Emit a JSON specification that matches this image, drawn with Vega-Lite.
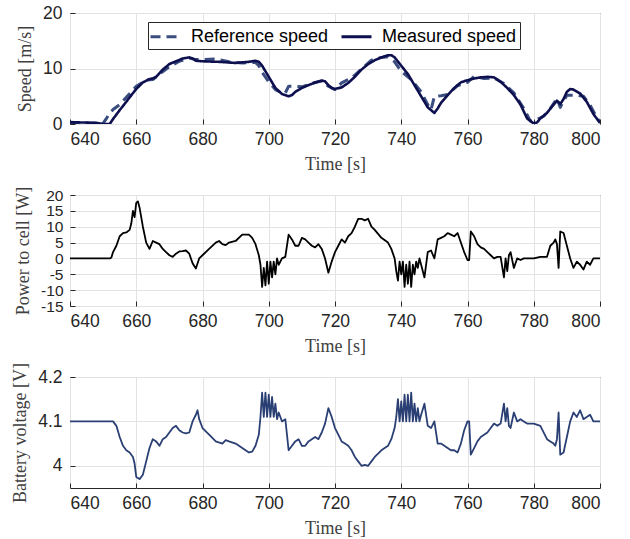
{
  "$schema": "https://vega.github.io/schema/vega-lite/v6.json",
  "padding": {"left": 11, "top": 3, "right": 5, "bottom": 0},
  "background": "white",
  "bounds": "flush",
  "spacing": 71,
  "config": {
    "view": {"stroke": "#262626", "strokeWidth": 1},
    "axis": {
      "labelFont": "Liberation Sans", "labelFontSize": 17.5, "labelColor": "#262626",
      "titleFont": "Liberation Serif", "titleFontSize": 18, "titleFontWeight": "normal", "titleColor": "#404040",
      "gridColor": "#e3e3e3", "gridWidth": 1, "domain": false,
      "tickColor": "#262626", "tickSize": -5, "tickWidth": 1,
      "labelOverlap": false, "labelBound": false
    },
    "axisX": {"labelPadding": 11, "titlePadding": 8},
    "axisY": {"labelPadding": 13, "titlePadding": 8},
    "line": {"strokeJoin": "round", "strokeCap": "butt"}
  },
  "datasets": {
    "ref": [
      {"t":640,"v":0.3,"s":"Reference speed"},{"t":645,"v":0.2,"s":"Reference speed"},{"t":650,"v":0.1,"s":"Reference speed"},
      {"t":651,"v":1.0,"s":"Reference speed"},{"t":652,"v":2.0,"s":"Reference speed"},{"t":653,"v":2.6,"s":"Reference speed"},
      {"t":655,"v":3.5,"s":"Reference speed"},{"t":657,"v":4.8,"s":"Reference speed"},{"t":660,"v":6.8,"s":"Reference speed"},
      {"t":663,"v":7.9,"s":"Reference speed"},{"t":665,"v":8.0,"s":"Reference speed"},{"t":667,"v":9.0,"s":"Reference speed"},
      {"t":670,"v":10.3,"s":"Reference speed"},{"t":673,"v":11.3,"s":"Reference speed"},{"t":676,"v":11.9,"s":"Reference speed"},
      {"t":678,"v":11.6,"s":"Reference speed"},{"t":680,"v":11.6,"s":"Reference speed"},{"t":684,"v":11.7,"s":"Reference speed"},
      {"t":688,"v":11.2,"s":"Reference speed"},{"t":692,"v":11.0,"s":"Reference speed"},{"t":696,"v":11.1,"s":"Reference speed"},
      {"t":697,"v":10.5,"s":"Reference speed"},{"t":698,"v":9.3,"s":"Reference speed"},{"t":700,"v":7.6,"s":"Reference speed"},
      {"t":702,"v":6.2,"s":"Reference speed"},{"t":704,"v":5.6,"s":"Reference speed"},{"t":705,"v":5.6,"s":"Reference speed"},
      {"t":706,"v":6.8,"s":"Reference speed"},{"t":708,"v":6.8,"s":"Reference speed"},{"t":710,"v":6.7,"s":"Reference speed"},
      {"t":713,"v":7.3,"s":"Reference speed"},{"t":716,"v":7.8,"s":"Reference speed"},{"t":718,"v":6.8,"s":"Reference speed"},
      {"t":720,"v":6.2,"s":"Reference speed"},{"t":722,"v":7.4,"s":"Reference speed"},{"t":725,"v":8.3,"s":"Reference speed"},
      {"t":728,"v":9.9,"s":"Reference speed"},{"t":731,"v":11.5,"s":"Reference speed"},{"t":734,"v":12.0,"s":"Reference speed"},
      {"t":736,"v":12.1,"s":"Reference speed"},{"t":738,"v":11.2,"s":"Reference speed"},{"t":740,"v":9.5,"s":"Reference speed"},
      {"t":743,"v":8.0,"s":"Reference speed"},{"t":746,"v":5.8,"s":"Reference speed"},{"t":748,"v":3.5,"s":"Reference speed"},
      {"t":749,"v":2.6,"s":"Reference speed"},{"t":750,"v":5.0,"s":"Reference speed"},{"t":752,"v":5.1,"s":"Reference speed"},
      {"t":754,"v":5.3,"s":"Reference speed"},{"t":757,"v":6.9,"s":"Reference speed"},{"t":760,"v":7.5,"s":"Reference speed"},
      {"t":762,"v":8.6,"s":"Reference speed"},{"t":765,"v":8.2,"s":"Reference speed"},{"t":768,"v":8.3,"s":"Reference speed"},
      {"t":771,"v":7.3,"s":"Reference speed"},{"t":774,"v":5.6,"s":"Reference speed"},{"t":777,"v":2.8,"s":"Reference speed"},
      {"t":779,"v":0.5,"s":"Reference speed"},{"t":781,"v":0.8,"s":"Reference speed"},{"t":783,"v":1.4,"s":"Reference speed"},
      {"t":785,"v":2.8,"s":"Reference speed"},{"t":787,"v":4.6,"s":"Reference speed"},{"t":788,"v":3.0,"s":"Reference speed"},
      {"t":790,"v":5.2,"s":"Reference speed"},{"t":793,"v":5.2,"s":"Reference speed"},{"t":795,"v":5.0,"s":"Reference speed"},
      {"t":797,"v":3.4,"s":"Reference speed"},{"t":799,"v":1.2,"s":"Reference speed"},{"t":800,"v":0.3,"s":"Reference speed"}
    ],
    "meas": [
      {"t":640,"v":0.3,"s":"Measured speed"},{"t":642,"v":0.3,"s":"Measured speed"},{"t":645,"v":0.25,"s":"Measured speed"},
      {"t":648,"v":0.2,"s":"Measured speed"},{"t":649,"v":0.1,"s":"Measured speed"},{"t":650,"v":0,"s":"Measured speed"},
      {"t":652,"v":0,"s":"Measured speed"},{"t":653,"v":0.9,"s":"Measured speed"},{"t":655,"v":2.5,"s":"Measured speed"},
      {"t":657,"v":4.0,"s":"Measured speed"},{"t":658,"v":4.8,"s":"Measured speed"},{"t":660,"v":6.3,"s":"Measured speed"},
      {"t":662,"v":7.5,"s":"Measured speed"},{"t":664,"v":8.1,"s":"Measured speed"},{"t":665,"v":8.2,"s":"Measured speed"},
      {"t":666,"v":8.5,"s":"Measured speed"},{"t":668,"v":9.8,"s":"Measured speed"},{"t":670,"v":10.8,"s":"Measured speed"},
      {"t":672,"v":11.3,"s":"Measured speed"},{"t":674,"v":11.8,"s":"Measured speed"},{"t":676,"v":12.0,"s":"Measured speed"},
      {"t":677,"v":11.8,"s":"Measured speed"},{"t":678,"v":11.4,"s":"Measured speed"},{"t":680,"v":11.3,"s":"Measured speed"},
      {"t":685,"v":11.2,"s":"Measured speed"},{"t":690,"v":11.0,"s":"Measured speed"},{"t":694,"v":11.2,"s":"Measured speed"},
      {"t":696,"v":11.4,"s":"Measured speed"},{"t":697,"v":11.2,"s":"Measured speed"},{"t":698,"v":10.5,"s":"Measured speed"},
      {"t":700,"v":8.5,"s":"Measured speed"},{"t":702,"v":6.5,"s":"Measured speed"},{"t":704,"v":5.4,"s":"Measured speed"},
      {"t":706,"v":5.0,"s":"Measured speed"},{"t":707,"v":5.2,"s":"Measured speed"},{"t":708,"v":5.8,"s":"Measured speed"},
      {"t":710,"v":6.5,"s":"Measured speed"},{"t":712,"v":7.0,"s":"Measured speed"},{"t":714,"v":7.5,"s":"Measured speed"},
      {"t":716,"v":7.8,"s":"Measured speed"},{"t":717,"v":7.7,"s":"Measured speed"},{"t":718,"v":7.0,"s":"Measured speed"},
      {"t":719,"v":6.5,"s":"Measured speed"},{"t":720,"v":6.3,"s":"Measured speed"},{"t":722,"v":6.6,"s":"Measured speed"},
      {"t":724,"v":7.4,"s":"Measured speed"},{"t":726,"v":8.5,"s":"Measured speed"},{"t":728,"v":9.8,"s":"Measured speed"},
      {"t":730,"v":10.8,"s":"Measured speed"},{"t":732,"v":11.5,"s":"Measured speed"},{"t":734,"v":12.0,"s":"Measured speed"},
      {"t":736,"v":12.4,"s":"Measured speed"},{"t":737,"v":12.4,"s":"Measured speed"},{"t":738,"v":12.0,"s":"Measured speed"},
      {"t":740,"v":10.5,"s":"Measured speed"},{"t":742,"v":9.0,"s":"Measured speed"},{"t":744,"v":7.0,"s":"Measured speed"},
      {"t":746,"v":5.0,"s":"Measured speed"},{"t":748,"v":3.0,"s":"Measured speed"},{"t":749,"v":2.5,"s":"Measured speed"},
      {"t":750,"v":2.0,"s":"Measured speed"},{"t":751,"v":2.8,"s":"Measured speed"},{"t":752,"v":3.8,"s":"Measured speed"},
      {"t":754,"v":5.2,"s":"Measured speed"},{"t":756,"v":6.5,"s":"Measured speed"},{"t":758,"v":7.5,"s":"Measured speed"},
      {"t":760,"v":7.9,"s":"Measured speed"},{"t":762,"v":8.2,"s":"Measured speed"},{"t":764,"v":8.4,"s":"Measured speed"},
      {"t":766,"v":8.5,"s":"Measured speed"},{"t":768,"v":8.4,"s":"Measured speed"},{"t":770,"v":7.6,"s":"Measured speed"},
      {"t":772,"v":6.5,"s":"Measured speed"},{"t":774,"v":5.2,"s":"Measured speed"},{"t":776,"v":3.5,"s":"Measured speed"},
      {"t":778,"v":1.0,"s":"Measured speed"},{"t":780,"v":0.1,"s":"Measured speed"},{"t":781,"v":0.3,"s":"Measured speed"},
      {"t":782,"v":1.0,"s":"Measured speed"},{"t":784,"v":2.0,"s":"Measured speed"},{"t":786,"v":3.5,"s":"Measured speed"},
      {"t":787,"v":4.2,"s":"Measured speed"},{"t":788,"v":3.6,"s":"Measured speed"},{"t":789,"v":4.5,"s":"Measured speed"},
      {"t":790,"v":5.8,"s":"Measured speed"},{"t":791,"v":6.3,"s":"Measured speed"},{"t":792,"v":6.2,"s":"Measured speed"},
      {"t":794,"v":5.5,"s":"Measured speed"},{"t":796,"v":4.0,"s":"Measured speed"},{"t":798,"v":1.8,"s":"Measured speed"},
      {"t":800,"v":0.2,"s":"Measured speed"}
    ],
    "power": [
      {"t":640,"p":0},{"t":652,"p":0},{"t":652.5,"p":0.3},{"t":653,"p":2},{"t":654,"p":4},{"t":655,"p":7},{"t":656,"p":8},
      {"t":657,"p":8.2},{"t":658,"p":9},{"t":658.5,"p":11},{"t":659,"p":15},{"t":659.5,"p":13},{"t":660,"p":17.5},{"t":660.5,"p":18},
      {"t":661,"p":16},{"t":662,"p":10},{"t":663,"p":5},{"t":664,"p":3},{"t":665,"p":5.5},{"t":666,"p":5},{"t":667,"p":4.5},
      {"t":668,"p":3},{"t":669,"p":2},{"t":670,"p":1},{"t":671,"p":0.5},{"t":672,"p":1.5},{"t":673,"p":2.2},{"t":674,"p":2.3},
      {"t":675,"p":2.5},{"t":676,"p":1.5},{"t":677,"p":-1.5},{"t":678,"p":-3.2},{"t":679,"p":0},{"t":680,"p":1},{"t":682,"p":3},
      {"t":684,"p":5},{"t":685,"p":5.5},{"t":686,"p":4.5},{"t":687,"p":4.2},{"t":688,"p":5},{"t":690,"p":5.5},{"t":692,"p":7.5},
      {"t":694,"p":7.5},{"t":695,"p":6.5},{"t":696,"p":4.5},{"t":697,"p":1},{"t":697.5,"p":-2},{"t":698,"p":-9},{"t":698.5,"p":-3},
      {"t":699,"p":-8.5},{"t":699.5,"p":-1},{"t":700,"p":-8},{"t":700.5,"p":-1},{"t":701,"p":-6},{"t":701.5,"p":-1},{"t":702,"p":-5},
      {"t":702.5,"p":0},{"t":703,"p":-2},{"t":704,"p":0},{"t":705,"p":0.5},{"t":706,"p":7.5},{"t":707,"p":6},{"t":708,"p":4},
      {"t":709,"p":4},{"t":710,"p":6.5},{"t":711,"p":6},{"t":712,"p":5},{"t":713,"p":4},{"t":714,"p":3.5},{"t":715,"p":4.5},
      {"t":716,"p":3},{"t":717,"p":0},{"t":718,"p":-4.5},{"t":719,"p":-1},{"t":720,"p":2},{"t":721,"p":4},{"t":722,"p":6},
      {"t":723,"p":5},{"t":724,"p":7},{"t":725,"p":8},{"t":726,"p":10},{"t":727,"p":12.5},{"t":728,"p":12.5},{"t":729,"p":12},
      {"t":730,"p":12.5},{"t":731,"p":10},{"t":732,"p":9},{"t":734,"p":6.5},{"t":736,"p":5},{"t":737,"p":3},{"t":738,"p":0},
      {"t":738.5,"p":-4},{"t":739,"p":-7},{"t":739.5,"p":-1},{"t":740,"p":-5},{"t":740.5,"p":-1},{"t":741,"p":-9},{"t":741.5,"p":-2},
      {"t":742,"p":-8},{"t":742.5,"p":-1},{"t":743,"p":-9},{"t":743.5,"p":-2},{"t":744,"p":-5},{"t":744.5,"p":-1},{"t":745,"p":-3},
      {"t":745.5,"p":0},{"t":746,"p":-2},{"t":747,"p":-6},{"t":748,"p":2},{"t":749,"p":2.5},{"t":750,"p":0},{"t":751,"p":6},
      {"t":752,"p":6.5},{"t":753,"p":7},{"t":754,"p":8},{"t":755,"p":7.5},{"t":756,"p":7},{"t":757,"p":8},{"t":758,"p":5},
      {"t":759,"p":2},{"t":760,"p":-0.5},{"t":760.5,"p":-0.5},{"t":761,"p":8.5},{"t":762,"p":7},{"t":763,"p":4.5},{"t":764,"p":3.5},
      {"t":765,"p":3},{"t":766,"p":2},{"t":767,"p":1},{"t":768,"p":0},{"t":769,"p":0.5},{"t":770,"p":0.5},{"t":771,"p":-6},
      {"t":771.5,"p":0},{"t":772,"p":-4},{"t":772.5,"p":1},{"t":773,"p":2},{"t":774,"p":-3},{"t":775,"p":0},{"t":776,"p":-0.5},
      {"t":777,"p":0},{"t":780,"p":0},{"t":782,"p":0.5},{"t":784,"p":0.5},{"t":785,"p":4},{"t":786,"p":5},{"t":786.5,"p":6},
      {"t":787,"p":4.5},{"t":787.5,"p":-3},{"t":788,"p":8.5},{"t":789,"p":8},{"t":790,"p":4},{"t":791,"p":0},{"t":792,"p":-3},
      {"t":793,"p":-1},{"t":794,"p":-2},{"t":795,"p":-3.5},{"t":796,"p":-1},{"t":797,"p":-2},{"t":798,"p":0},{"t":800,"p":0}
    ],
    "volt": [
      {"t":640,"u":4.1},{"t":653,"u":4.1},{"t":654,"u":4.09},{"t":655,"u":4.065},{"t":656,"u":4.045},{"t":657,"u":4.035},
      {"t":658,"u":4.03},{"t":659,"u":4.02},{"t":659.5,"u":4.005},{"t":660,"u":3.975},{"t":661,"u":3.97},{"t":662,"u":3.98},
      {"t":663,"u":4.01},{"t":664,"u":4.04},{"t":665,"u":4.06},{"t":666,"u":4.055},{"t":667,"u":4.045},{"t":668,"u":4.06},
      {"t":669,"u":4.065},{"t":670,"u":4.075},{"t":671,"u":4.085},{"t":672,"u":4.09},{"t":673,"u":4.08},{"t":674,"u":4.075},
      {"t":675,"u":4.073},{"t":676,"u":4.075},{"t":677,"u":4.1},{"t":678,"u":4.115},{"t":678.5,"u":4.125},{"t":679,"u":4.105},
      {"t":680,"u":4.085},{"t":682,"u":4.07},{"t":684,"u":4.055},{"t":686,"u":4.05},{"t":687,"u":4.058},{"t":688,"u":4.055},
      {"t":690,"u":4.05},{"t":692,"u":4.04},{"t":694,"u":4.03},{"t":695,"u":4.032},{"t":696,"u":4.045},{"t":697,"u":4.07},
      {"t":697.5,"u":4.11},{"t":698,"u":4.165},{"t":698.5,"u":4.11},{"t":699,"u":4.165},{"t":699.5,"u":4.11},{"t":700,"u":4.16},
      {"t":700.5,"u":4.11},{"t":701,"u":4.155},{"t":701.5,"u":4.11},{"t":702,"u":4.14},{"t":702.5,"u":4.105},{"t":703,"u":4.12},
      {"t":704,"u":4.1},{"t":705,"u":4.105},{"t":706,"u":4.035},{"t":707,"u":4.045},{"t":708,"u":4.055},{"t":709,"u":4.06},
      {"t":710,"u":4.045},{"t":711,"u":4.045},{"t":712,"u":4.055},{"t":713,"u":4.06},{"t":714,"u":4.065},{"t":715,"u":4.06},
      {"t":716,"u":4.075},{"t":717,"u":4.095},{"t":718,"u":4.13},{"t":719,"u":4.11},{"t":720,"u":4.085},{"t":721,"u":4.07},
      {"t":722,"u":4.055},{"t":723,"u":4.05},{"t":724,"u":4.045},{"t":725,"u":4.035},{"t":726,"u":4.02},{"t":727,"u":4.01},
      {"t":728,"u":4.0},{"t":729,"u":4.002},{"t":730,"u":4.0},{"t":731,"u":4.01},{"t":732,"u":4.02},{"t":734,"u":4.035},
      {"t":736,"u":4.045},{"t":737,"u":4.06},{"t":738,"u":4.085},{"t":738.5,"u":4.11},{"t":739,"u":4.15},{"t":739.5,"u":4.1},
      {"t":740,"u":4.145},{"t":740.5,"u":4.1},{"t":741,"u":4.16},{"t":741.5,"u":4.1},{"t":742,"u":4.16},{"t":742.5,"u":4.1},
      {"t":743,"u":4.165},{"t":743.5,"u":4.1},{"t":744,"u":4.14},{"t":744.5,"u":4.1},{"t":745,"u":4.13},{"t":745.5,"u":4.1},
      {"t":746,"u":4.115},{"t":747,"u":4.14},{"t":748,"u":4.09},{"t":749,"u":4.085},{"t":750,"u":4.1},{"t":751,"u":4.05},
      {"t":752,"u":4.05},{"t":753,"u":4.045},{"t":754,"u":4.04},{"t":755,"u":4.035},{"t":756,"u":4.035},{"t":757,"u":4.03},
      {"t":758,"u":4.05},{"t":759,"u":4.08},{"t":760,"u":4.1},{"t":760.5,"u":4.1},{"t":761,"u":4.025},{"t":762,"u":4.04},
      {"t":763,"u":4.055},{"t":764,"u":4.065},{"t":765,"u":4.07},{"t":766,"u":4.075},{"t":767,"u":4.085},{"t":768,"u":4.095},
      {"t":769,"u":4.09},{"t":770,"u":4.095},{"t":771,"u":4.14},{"t":771.5,"u":4.1},{"t":772,"u":4.13},{"t":772.5,"u":4.09},
      {"t":773,"u":4.085},{"t":774,"u":4.12},{"t":775,"u":4.1},{"t":776,"u":4.105},{"t":777,"u":4.1},{"t":778,"u":4.095},
      {"t":780,"u":4.095},{"t":782,"u":4.09},{"t":784,"u":4.06},{"t":785,"u":4.055},{"t":786,"u":4.05},{"t":786.5,"u":4.045},
      {"t":787,"u":4.06},{"t":787.5,"u":4.12},{"t":788,"u":4.025},{"t":789,"u":4.03},{"t":790,"u":4.065},{"t":791,"u":4.1},
      {"t":792,"u":4.12},{"t":793,"u":4.11},{"t":794,"u":4.125},{"t":795,"u":4.105},{"t":796,"u":4.11},{"t":797,"u":4.115},
      {"t":798,"u":4.1},{"t":800,"u":4.1}
    ]
  },
  "vconcat": [
    {
      "width": 530, "height": 111,
      "encoding": {
        "x": {"field": "t", "type": "quantitative", "scale": {"domain": [640, 800], "nice": false},
              "axis": {"values": [640,660,680,700,720,740,760,780,800], "title": "Time [s]", "labelExpr": "'' + datum.value"}},
        "y": {"field": "v", "type": "quantitative", "scale": {"domain": [0, 20], "nice": false},
              "axis": {"values": [0,10,20], "title": "Speed [m/s]", "labelExpr": "'' + datum.value"}},
        "color": {"field": "s", "type": "nominal",
                  "scale": {"domain": ["Reference speed", "Measured speed"], "range": ["#3a4d80", "#0d0f4f"]},
                  "legend": {"orient": "none", "legendX": 78, "legendY": 9, "direction": "horizontal", "title": null,
                             "labelFont": "Liberation Sans", "labelFontSize": 18, "labelColor": "#000000",
                             "strokeColor": "#262626", "fillColor": "white", "padding": 3,
                             "symbolType": "M-1.2,0L1.8,0", "symbolSize": 400, "symbolStrokeWidth": 3,
                             "columnPadding": 11, "labelOffset": 17}},
        "strokeDash": {"field": "s", "type": "nominal",
                       "scale": {"domain": ["Reference speed", "Measured speed"], "range": [[10, 6], [1, 0]]},
                       "legend": {"orient": "none", "legendX": 78, "legendY": 9, "direction": "horizontal", "title": null,
                             "labelFont": "Liberation Sans", "labelFontSize": 18, "labelColor": "#000000",
                             "strokeColor": "#262626", "fillColor": "white", "padding": 3,
                             "symbolType": "M-1.2,0L1.8,0", "symbolSize": 400, "symbolStrokeWidth": 3,
                             "columnPadding": 11, "labelOffset": 17}}
      },
      "layer": [
        {"data": {"name": "ref"}, "mark": {"type": "line", "strokeWidth": 3, "clip": true}},
        {"data": {"name": "meas"}, "mark": {"type": "line", "strokeWidth": 2.6, "clip": true}}
      ]
    },
    {
      "width": 530, "height": 111,
      "data": {"name": "power"},
      "mark": {"type": "line", "color": "#000000", "strokeWidth": 1.8, "clip": true},
      "encoding": {
        "x": {"field": "t", "type": "quantitative", "scale": {"domain": [640, 800], "nice": false},
              "axis": {"values": [640,660,680,700,720,740,760,780,800], "title": "Time [s]", "labelExpr": "'' + datum.value"}},
        "y": {"field": "p", "type": "quantitative", "scale": {"domain": [-15, 20], "nice": false},
              "axis": {"values": [-15,-10,-5,0,5,10,15,20], "title": "Power to cell [W]", "labelExpr": "'' + datum.value",
                       "labelFontSize": 15.5, "labelPadding": 12}}
      }
    },
    {
      "width": 530, "height": 111,
      "data": {"name": "volt"},
      "mark": {"type": "line", "color": "#2a3f73", "strokeWidth": 1.8, "clip": true},
      "encoding": {
        "x": {"field": "t", "type": "quantitative", "scale": {"domain": [640, 800], "nice": false},
              "axis": {"values": [640,660,680,700,720,740,760,780,800], "title": "Time [s]", "labelExpr": "'' + datum.value"}},
        "y": {"field": "u", "type": "quantitative", "scale": {"domain": [3.95, 4.2], "nice": false, "zero": false},
              "axis": {"values": [4.0, 4.1, 4.2], "title": "Battery voltage [V]", "labelExpr": "'' + datum.value"}}
      }
    }
  ]
}
